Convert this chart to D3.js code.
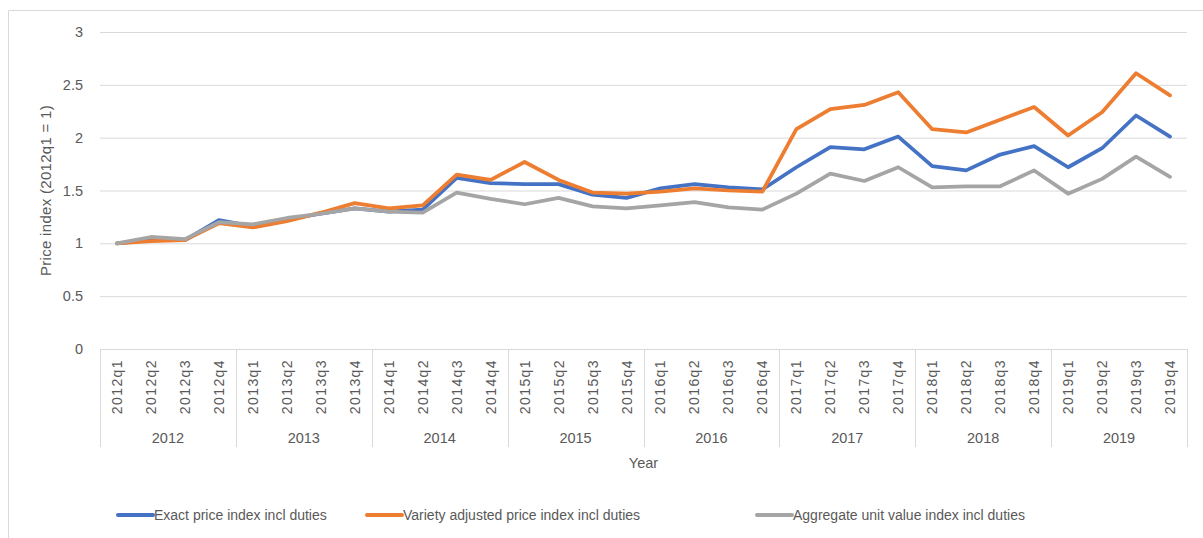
<!DOCTYPE html>
<html>
<head>
<meta charset="utf-8">
<script src="https://cdn.jsdelivr.net/npm/d3@7"></script>
<style>
  body { margin: 0; background: #fff; }
  svg { display: block; font-family: 'Liberation Sans', Arial, sans-serif; }
</style>
</head>
<body>
<div id="chart"></div>
<script>
const years = ['2012', '2013', '2014', '2015', '2016', '2017', '2018', '2019']
const quarters = years.flatMap(y => ['q1', 'q2', 'q3', 'q4'].map(q => y + q))

const exactIndex = [
  1.00, 1.03, 1.03, 1.22, 1.16, 1.23, 1.28, 1.33,
  1.30, 1.32, 1.62, 1.57, 1.56, 1.56, 1.46, 1.43,
  1.52, 1.56, 1.53, 1.51, 1.72, 1.91, 1.89, 2.01,
  1.73, 1.69, 1.84, 1.92, 1.72, 1.90, 2.21, 2.01
]
const varietyIndex = [
  1.00, 1.02, 1.03, 1.19, 1.15, 1.21, 1.29, 1.38,
  1.33, 1.36, 1.65, 1.60, 1.77, 1.60, 1.48, 1.47,
  1.49, 1.52, 1.50, 1.49, 2.08, 2.27, 2.31, 2.43,
  2.08, 2.05, 2.17, 2.29, 2.02, 2.24, 2.61, 2.40
]
const aggregateIndex = [
  1.00, 1.06, 1.04, 1.20, 1.18, 1.24, 1.28, 1.33,
  1.30, 1.29, 1.48, 1.42, 1.37, 1.43, 1.35, 1.33,
  1.36, 1.39, 1.34, 1.32, 1.47, 1.66, 1.59, 1.72,
  1.53, 1.54, 1.54, 1.69, 1.47, 1.61, 1.82, 1.63
]
const yTicks = [0, 0.5, 1, 1.5, 2, 2.5, 3]

const series = [
  { name: 'Exact price index incl duties', values: exactIndex, color: '#4472c4' },
  { name: 'Variety adjusted price index incl duties', values: varietyIndex, color: '#ed7d31' },
  { name: 'Aggregate unit value index incl duties', values: aggregateIndex, color: '#a5a5a5' }
]

const width = 1203
const height = 538
const margin = { left: 100, right: 16, top: 32, bottom: 189 }
const textColor = '#595959'
const gridColor = '#d9d9d9'

const svg = d3.select('#chart').append('svg')
  .attr('width', width)
  .attr('height', height)

// outer chart frame (cropped on the right and bottom)
svg.append('path')
  .attr('d', `M8.5,${height}V10.5H${width}`)
  .attr('fill', 'none')
  .attr('stroke', gridColor)

const x = d3.scaleBand()
  .domain(quarters)
  .range([margin.left, width - margin.right])
  .padding(0)

const y = d3.scaleLinear()
  .domain([0, 3])
  .range([height - margin.bottom, margin.top])

// gridlines and y labels
const yAxis = svg.append('g')
  .attr('transform', `translate(${margin.left},0)`)
  .call(d3.axisLeft(y)
    .tickValues(yTicks)
    .tickSize(-(width - margin.right - margin.left))
    .tickPadding(17)
    .tickFormat(d3.format('')))

yAxis.select('.domain').remove()
yAxis.selectAll('.tick line').attr('stroke', gridColor)
yAxis.selectAll('.tick text')
  .attr('fill', textColor)
  .style('font-size', '14.5px')

svg.append('text')
  .attr('transform', `translate(51,${(y(0) + y(3)) / 2}) rotate(-90)`)
  .attr('text-anchor', 'middle')
  .attr('fill', textColor)
  .style('font-size', '15px')
  .style('letter-spacing', '0.3px')
  .text('Price index (2012q1 = 1)')

// multi-level category axis
const axisTop = y(0)
const axisBottom = axisTop + 98
const xAxis = svg.append('g')

xAxis.append('line')
  .attr('x1', x.range()[0])
  .attr('x2', x.range()[1])
  .attr('y1', axisTop + 0.5)
  .attr('y2', axisTop + 0.5)
  .attr('stroke', gridColor)

const splits = quarters.filter((_, i) => i % 4 === 0).map(q => x(q)).concat([x.range()[1]])

xAxis.selectAll('.split')
  .data(splits)
  .join('line')
  .attr('class', 'split')
  .attr('x1', d => Math.round(d) + 0.5)
  .attr('x2', d => Math.round(d) + 0.5)
  .attr('y1', axisTop)
  .attr('y2', axisBottom)
  .attr('stroke', gridColor)

xAxis.selectAll('.quarter')
  .data(quarters)
  .join('text')
  .attr('class', 'quarter')
  .attr('transform', d => `translate(${x(d) + x.bandwidth() / 2 + 5},${axisTop + 10}) rotate(-90)`)
  .attr('text-anchor', 'end')
  .attr('fill', textColor)
  .style('font-size', '14px')
  .style('letter-spacing', '1.4px')
  .text(d => d)

xAxis.selectAll('.year')
  .data(years)
  .join('text')
  .attr('class', 'year')
  .attr('x', d => x(d + 'q1') + x.bandwidth() * 2)
  .attr('y', axisTop + 94)
  .attr('text-anchor', 'middle')
  .attr('fill', textColor)
  .style('font-size', '14.5px')
  .text(d => d)

svg.append('text')
  .attr('x', (x.range()[0] + x.range()[1]) / 2)
  .attr('y', axisBottom + 21)
  .attr('text-anchor', 'middle')
  .attr('fill', textColor)
  .style('font-size', '14.5px')
  .text('Year')

// series lines
const line = d3.line()
  .x((_, i) => x(quarters[i]) + x.bandwidth() / 2)
  .y(d => y(d))

svg.selectAll('.series')
  .data(series)
  .join('path')
  .attr('class', 'series')
  .attr('d', d => line(d.values))
  .attr('fill', 'none')
  .attr('stroke', d => d.color)
  .attr('stroke-width', 3.75)
  .attr('stroke-linejoin', 'round')
  .attr('stroke-linecap', 'round')

// legend
const legendX = [118, 367, 757]
const legend = svg.selectAll('.legend')
  .data(series)
  .join('g')
  .attr('class', 'legend')
  .attr('transform', (_, i) => `translate(${legendX[i]},515)`)

legend.append('line')
  .attr('x1', 0)
  .attr('x2', 35)
  .attr('stroke', d => d.color)
  .attr('stroke-width', 4)
  .attr('stroke-linecap', 'round')

legend.append('text')
  .attr('x', 36)
  .attr('dy', '0.35em')
  .attr('fill', textColor)
  .style('font-size', '14px')
  .text(d => d.name)
</script>
</body>
</html>
